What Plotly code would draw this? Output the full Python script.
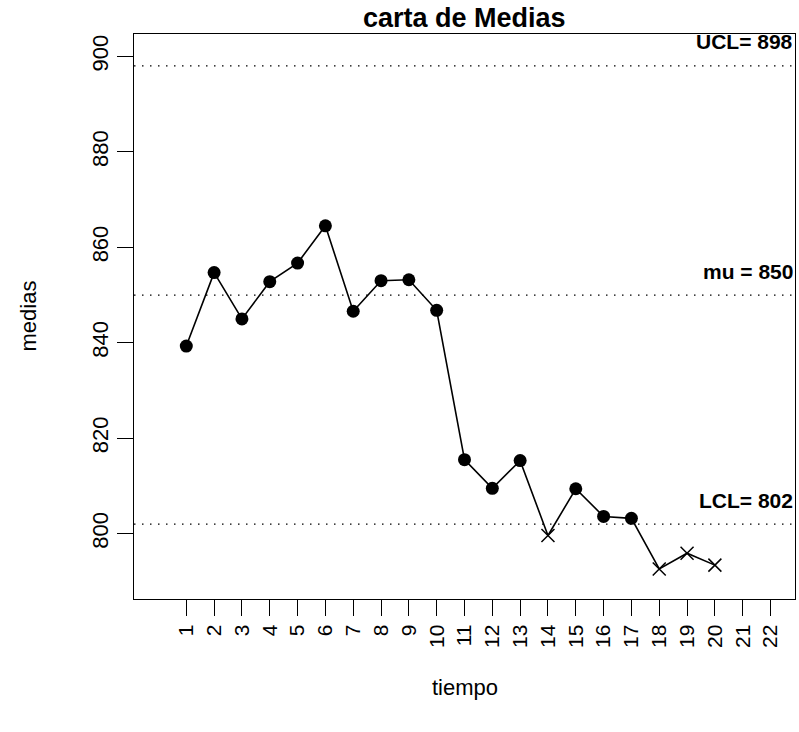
import plotly.graph_objects as go

# sample means per period
tiempo = list(range(1, 21))
medias = [839.3, 854.7, 845.0, 852.8, 856.7, 864.5, 846.6, 853.0, 853.2, 846.8,
          815.5, 809.5, 815.3, 799.6, 809.4, 803.6, 803.2, 792.6, 795.9, 793.4]

# control limits
mu = 850
UCL = 898
LCL = 802
limit_labels = ["UCL= 898", "mu = 850", "LCL= 802"]
limit_values = [UCL, mu, LCL]

x_ticks = list(range(1, 23))
y_ticks = [800, 820, 840, 860, 880, 900]

FONT = "Liberation Sans, Arial, Helvetica, sans-serif"

inside = [(t, m) for t, m in zip(tiempo, medias) if LCL <= m <= UCL]
outside = [(t, m) for t, m in zip(tiempo, medias) if not (LCL <= m <= UCL)]

fig = go.Figure()

# control limit lines
for val in limit_values:
    fig.add_trace(go.Scatter(
        x=[-0.88, 22.88], y=[val, val], mode="lines",
        line=dict(color="black", width=1.3, dash="1.5px,6.5px"),
        hoverinfo="skip", showlegend=False))

# connecting line
fig.add_trace(go.Scatter(
    x=tiempo, y=medias, mode="lines",
    line=dict(color="black", width=1.6), showlegend=False))

# in-control points
fig.add_trace(go.Scatter(
    x=[p[0] for p in inside], y=[p[1] for p in inside], mode="markers",
    marker=dict(symbol="circle", size=13, color="black"), showlegend=False))

# out-of-control points
fig.add_trace(go.Scatter(
    x=[p[0] for p in outside], y=[p[1] for p in outside], mode="markers",
    marker=dict(symbol="x-thin-open", size=13, color="black",
                line=dict(color="black", width=1.5)), showlegend=False))

annotations = []
for lab, val in zip(limit_labels, limit_values):
    annotations.append(dict(
        x=1, xref="paper", y=val, yref="y", text="<b>%s</b>" % lab,
        showarrow=False, xanchor="right", yanchor="middle", yshift=24,
        font=dict(family=FONT, size=21, color="black")))

annotations += [
    dict(x=0.5, xref="paper", y=1, yref="paper", yshift=16,
         text="<b>carta de Medias</b>", showarrow=False,
         xanchor="center", yanchor="middle",
         font=dict(family=FONT, size=27, color="black")),
    dict(x=0.5, xref="paper", y=0, yref="paper", yshift=-88,
         text="tiempo", showarrow=False, xanchor="center", yanchor="middle",
         font=dict(family=FONT, size=22, color="black")),
    dict(x=0, xref="paper", y=0.5, yref="paper", xshift=-106,
         text="medias", showarrow=False, textangle=-90,
         xanchor="center", yanchor="middle",
         font=dict(family=FONT, size=22, color="black")),
]

fig.update_layout(
    width=799, height=732,
    margin=dict(l=134, r=4, t=34, b=133),
    paper_bgcolor="white", plot_bgcolor="white",
    font=dict(family=FONT, size=21, color="black"),
    showlegend=False,
    annotations=annotations,
    xaxis=dict(
        range=[-0.88, 22.88], tickmode="array", tickvals=x_ticks,
        ticktext=[str(v) for v in x_ticks], tickangle=-90,
        ticks="outside", ticklen=16, tickwidth=1.3, tickcolor="black",
        showline=True, linecolor="black", linewidth=1.3, mirror=True,
        showgrid=False, zeroline=False,
        tickfont=dict(family=FONT, size=21, color="black")),
    yaxis=dict(
        range=[786.3, 904.7], tickmode="array", tickvals=y_ticks,
        ticktext=[str(v) for v in y_ticks], tickangle=-90,
        ticks="outside", ticklen=16, tickwidth=1.3, tickcolor="black",
        showline=True, linecolor="black", linewidth=1.3, mirror=True,
        showgrid=False, zeroline=False,
        tickfont=dict(family=FONT, size=22, color="black")),
)

fig.write_html("out.html")
